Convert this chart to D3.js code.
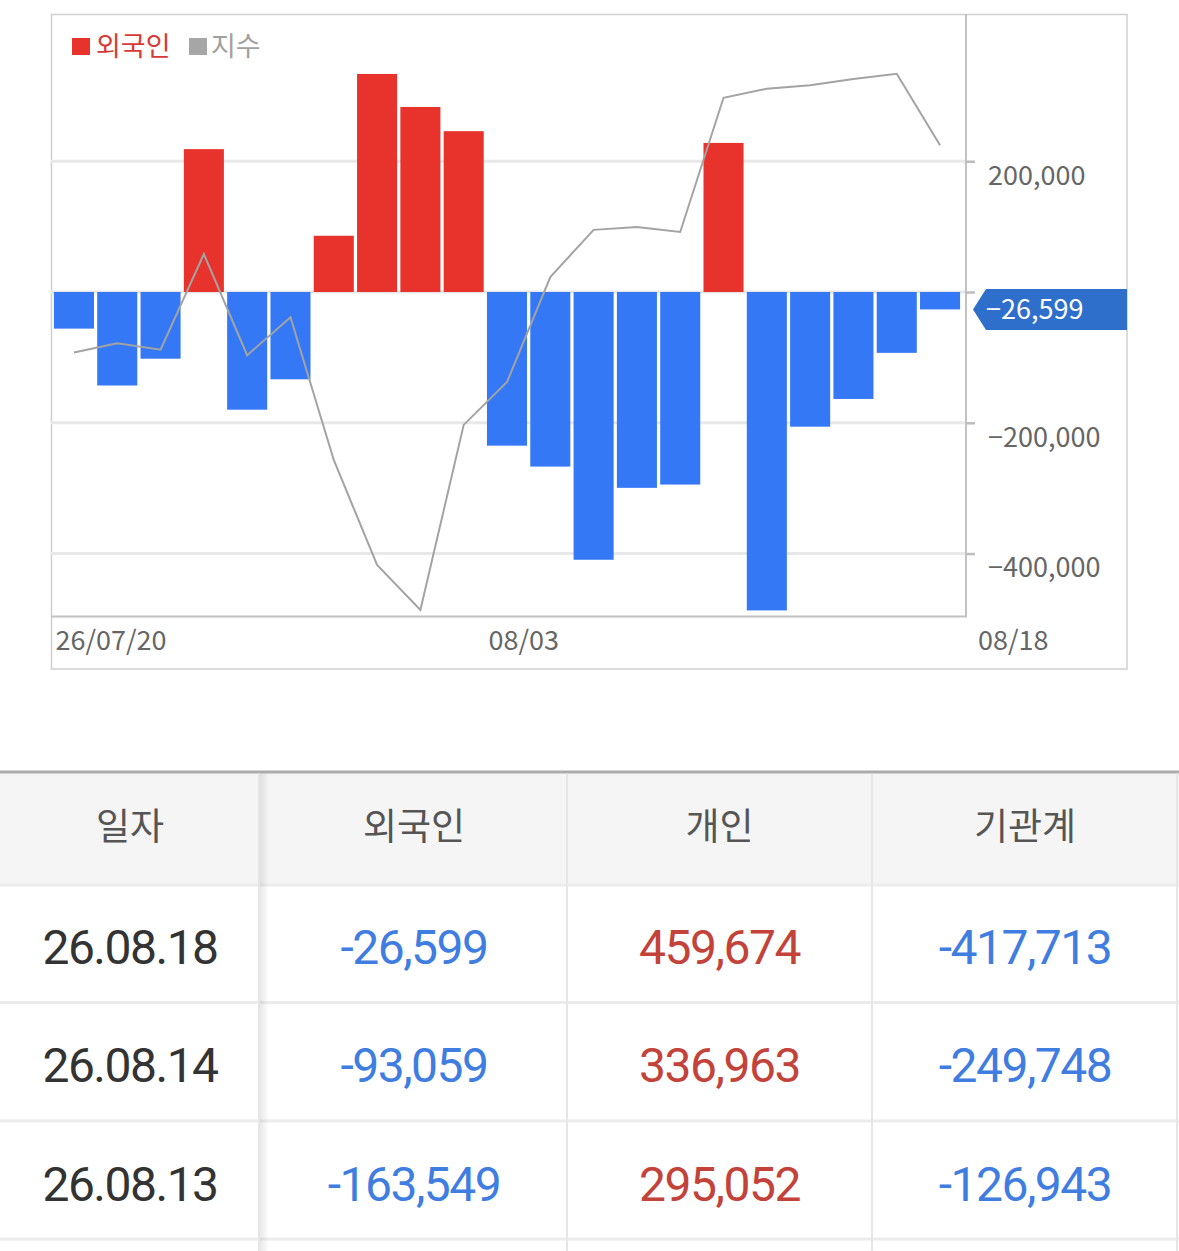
<!DOCTYPE html>
<html>
<head>
<meta charset="utf-8">
<script src="https://cdn.jsdelivr.net/npm/d3@7"></script>
<style>
  body { margin: 0; background: #fff; }
  svg { display: block; }
</style>
</head>
<body>
<script>
var w = 1179;
var h = 1251;

// chart data (foreign net buying, index)
var dates = ["26/07/20","07/21","07/22","07/23","07/24","07/27","07/28","07/29","07/30","07/31",
             "08/03","08/04","08/05","08/06","08/07","08/10","08/11","08/12","08/13","08/14","08/18"];
var foreign = [-56000, -143000, -102000, 218500, -180000, -133500, 86000, 333500, 283000, 246000,
               -235000, -267000, -409500, -299500, -294500, 228000, -487000, -206000, -163549, -93059, -26599];
var indexValues = [3145.9, 3149.4, 3147.0, 3182.7, 3144.9, 3159.1, 3105.8, 3066.6, 3049.8, 3118.9,
                   3134.9, 3174.1, 3191.7, 3192.8, 3190.9, 3241.0, 3244.4, 3245.7, 3248.0, 3250.0, 3223.3];
var yTicks = [200000, 0, -200000, -400000];
var xLabels = ["26/07/20", "08/03", "08/18"];

// table data
var tableHeaders = ["일자", "외국인", "개인", "기관계"];
var tableDates = ["26.08.18", "26.08.14", "26.08.13"];
var tableForeign = [-26599, -93059, -163549];
var tablePersonal = [459674, 336963, 295052];
var tableInst = [-417713, -249748, -126943];

var plotLeft = 51, plotRight = 966, plotTop = 14, plotBottom = 616.5;
var red = "#e8332c", blue = "#3478f6", gray = "#a6a6a6";
var chartFont = "'Noto Sans CJK KR', 'Noto Sans', sans-serif";

var svg = d3.select("body")
    .append("svg")
    .attr("width", w)
    .attr("height", h);

var xScale = d3.scaleBand()
    .domain(dates)
    .range([52.4, 961.6])
    .paddingInner(0.075)
    .paddingOuter(0.035);

var yScale = d3.scaleLinear()
    .domain([-496300, 425200])
    .range([plotBottom, plotTop]);

var idxScale = d3.scaleLinear()
    .domain(d3.extent(indexValues))
    .range([610, 73.7]);

//outer box
svg.append("rect")
    .attr("x", 51.5).attr("y", 14.5)
    .attr("width", 1127 - 51.5).attr("height", 669 - 14.5)
    .attr("fill", "none")
    .attr("stroke", "#cfcfcf")
    .attr("stroke-width", 1.5);

//gridlines
svg.append("g")
    .selectAll("line")
    .data(yTicks)
    .enter()
    .append("line")
    .attr("x1", plotLeft).attr("x2", plotRight)
    .attr("y1", d => yScale(d)).attr("y2", d => yScale(d))
    .attr("stroke", "#e8e8e8")
    .attr("stroke-width", 3);

//bars
svg.append("g")
    .selectAll("rect")
    .data(foreign)
    .enter()
    .append("rect")
    .attr("x", (d, i) => xScale(dates[i]))
    .attr("width", xScale.bandwidth())
    .attr("y", d => yScale(Math.max(0, d)))
    .attr("height", d => Math.abs(yScale(d) - yScale(0)))
    .attr("fill", d => d >= 0 ? red : blue);

//index line
svg.append("path")
    .datum(indexValues)
    .attr("fill", "none")
    .attr("stroke", "#a3a3a3")
    .attr("stroke-width", 2)
    .attr("d", d3.line()
        .x((d, i) => xScale(dates[i]) + xScale.bandwidth() / 2)
        .y(d => idxScale(d)));

//plot border (right, bottom)
svg.append("path")
    .attr("d", "M" + plotRight + "," + plotTop + "V" + plotBottom + "H" + plotLeft)
    .attr("fill", "none")
    .attr("stroke", "#c2c2c2")
    .attr("stroke-width", 2);

//right axis (0 label sits under the value marker)
var yAxis = d3.axisRight(yScale)
    .tickValues(yTicks)
    .tickSize(9)
    .tickPadding(13)
    .tickFormat(d => d === 0 ? "" : d3.format(",")(d));

var ay = svg.append("g")
    .attr("transform", "translate(" + plotRight + ",0)")
    .call(yAxis);
ay.select(".domain").remove();
ay.selectAll(".tick line").attr("stroke", "#bdbdbd").attr("stroke-width", 2.5);
ay.selectAll(".tick text")
    .attr("dy", "0.86em")
    .attr("fill", "#666")
    .style("font-family", chartFont)
    .style("font-size", "27px");

//x labels
var xPos = [xScale(dates[0]) + 1.5, xScale("08/03") + 1.5, plotRight + 12];
svg.append("g")
    .selectAll("text")
    .data(xLabels)
    .enter()
    .append("text")
    .text(d => d)
    .attr("x", (d, i) => xPos[i])
    .attr("y", 650)
    .attr("fill", "#666")
    .style("font-family", chartFont)
    .style("font-size", "27px");

//last value marker
var lastVal = foreign[foreign.length - 1];
var my = yScale(lastVal);
svg.append("path")
    .attr("d", "M973," + my + "L986," + (my - 20.5) + "H1127V" + (my + 20.5) + "H986Z")
    .attr("fill", "#2f6fcc");
svg.append("text")
    .text(d3.format(",")(lastVal))
    .attr("x", 986)
    .attr("y", my + 9.5)
    .attr("fill", "#fff")
    .style("font-family", chartFont)
    .style("font-size", "27px");

//legend
var legend = svg.append("g").style("font-family", chartFont).style("font-size", "27px");
legend.append("rect").attr("x", 72).attr("y", 38).attr("width", 18).attr("height", 17).attr("fill", red);
legend.append("text").text("외국인").attr("x", 96).attr("y", 56).attr("fill", "#d83a35");
legend.append("rect").attr("x", 189).attr("y", 38).attr("width", 18).attr("height", 17).attr("fill", gray);
legend.append("text").text("지수").attr("x", 211).attr("y", 56).attr("fill", "#a0a0a0");

//table
var colX = [0, 259, 567, 872, 1177];
var colC = [130, 414, 719.5, 1025];
var rowLines = [885, 1002.5, 1121, 1239];
var rowBase = [964, 1082, 1201];

var defs = svg.append("defs");
var grad = defs.append("linearGradient").attr("id", "shadow");
grad.append("stop").attr("offset", "0%").attr("stop-color", "#000").attr("stop-opacity", 0.09);
grad.append("stop").attr("offset", "100%").attr("stop-color", "#000").attr("stop-opacity", 0);

var t = svg.append("g");
t.append("rect")
    .attr("x", 0).attr("y", 772).attr("width", w).attr("height", 885 - 772)
    .attr("fill", "#f5f5f5");
t.append("line")
    .attr("x1", 0).attr("x2", w).attr("y1", 772).attr("y2", 772)
    .attr("stroke", "#ababab").attr("stroke-width", 3);

t.selectAll(".rowline")
    .data(rowLines)
    .enter()
    .append("line")
    .attr("x1", 0).attr("x2", w)
    .attr("y1", d => d).attr("y2", d => d)
    .attr("stroke", "#ececec")
    .attr("stroke-width", 3);

t.selectAll(".colline")
    .data(colX.slice(1))
    .enter()
    .append("line")
    .attr("x1", d => d).attr("x2", d => d)
    .attr("y1", 773.5).attr("y2", h)
    .attr("stroke", "#e6e6e6")
    .attr("stroke-width", 2);

t.append("rect")
    .attr("x", 260).attr("y", 773.5).attr("width", 9).attr("height", h - 773.5)
    .attr("fill", "url(#shadow)");

t.selectAll(".head")
    .data(tableHeaders)
    .enter()
    .append("text")
    .text(d => d)
    .attr("x", (d, i) => colC[i])
    .attr("y", 840)
    .attr("text-anchor", "middle")
    .attr("fill", "#555")
    .style("font-family", chartFont)
    .style("font-size", "37px");

var fmt = d3.format(",");
var numFont = "Roboto, 'Noto Sans', sans-serif";
function cellColumn(values, ci, color, isText) {
    t.append("g")
        .selectAll("text")
        .data(values)
        .enter()
        .append("text")
        .text(d => isText ? d : fmt(d).replace("\u2212", "-"))
        .attr("x", colC[ci])
        .attr("y", (d, i) => rowBase[i])
        .attr("text-anchor", "middle")
        .attr("fill", isText ? color : (d => d < 0 ? "#3f7de0" : "#c3423a"))
        .style("font-family", numFont)
        .style("font-size", "48px")
        .style("letter-spacing", "-1.5px");
}
cellColumn(tableDates, 0, "#333", true);
cellColumn(tableForeign, 1, null, false);
cellColumn(tablePersonal, 2, null, false);
cellColumn(tableInst, 3, null, false);
</script>
</body>
</html>
